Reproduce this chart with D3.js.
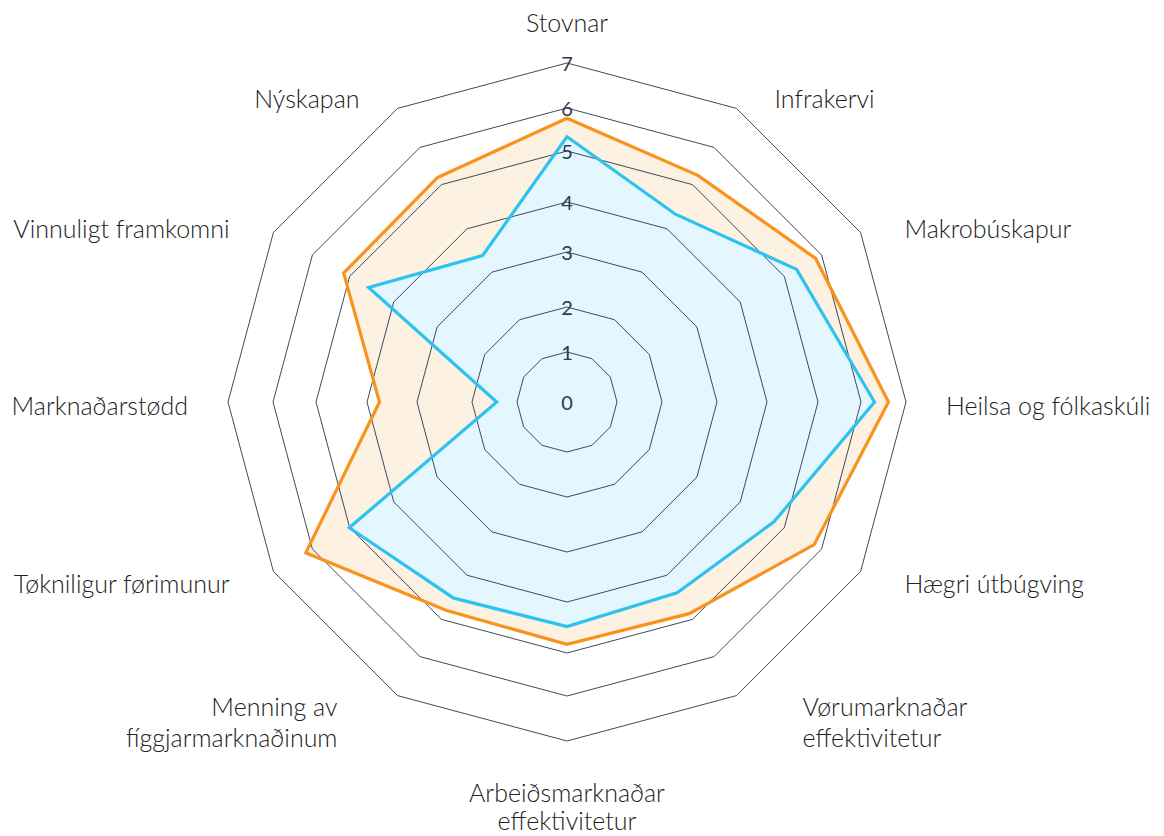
<!DOCTYPE html>
<html lang="fo">

<head>
  <meta charset="utf-8">
  <title>Radar</title>
  <script src="https://cdn.jsdelivr.net/npm/d3@7"></script>
  <style>
    body { margin: 0; background: #fff; }
    .axis-label { font-family: Lato, "Noto Sans", sans-serif; font-weight: 300; font-size: 25px; fill: #222; }
    .tick-label { font-family: Lato, "Noto Sans", sans-serif; font-weight: 400; font-size: 20px; fill: #2d3a4e; }
  </style>
</head>

<body>
  <svg id="chart"></svg>
  <script>
    // categories, clockwise from the top
    var categories = [
      "Stovnar",
      "Infrakervi",
      "Makrobúskapur",
      "Heilsa og fólkaskúli",
      "Hægri útbúgving",
      "Vørumarknaðar\neffektivitetur",
      "Arbeiðsmarknaðar\neffektivitetur",
      "Menning av\nfíggjarmarknaðinum",
      "Tøkniligur førimunur",
      "Marknaðarstødd",
      "Vinnuligt framkomni",
      "Nýskapan"
    ];
    var orangeSeries = [5.76, 5.25, 5.84, 6.61, 5.80, 4.87, 4.83, 4.80, 6.17, 3.75, 5.16, 5.19];
    var blueSeries = [5.33, 4.33, 5.33, 6.30, 4.77, 4.40, 4.48, 4.52, 5.01, 1.45, 4.57, 3.38];
    var ticks = [0, 1, 2, 3, 4, 5, 6, 7];

    var w = 1164, h = 836;
    var cx = 567, cy = 402;
    var step = 2 * Math.PI / categories.length;

    var svg = d3.select("#chart").attr("width", w).attr("height", h);
    var g = svg.append("g").attr("transform", "translate(" + cx + "," + cy + ")");

    // rings in the source are not evenly spaced, so a piecewise scale
    var r = d3.scaleLinear()
      .domain(ticks)
      .range([0, 50, 95, 150, 200, 251, 294, 339]);

    var radial = d3.lineRadial()
      .angle(function(d, i) { return i * step; })
      .radius(function(d) { return r(d); })
      .curve(d3.curveLinearClosed);

    // fills first
    g.append("path").datum(orangeSeries)
      .attr("d", radial)
      .attr("fill", "#fdf1e2");
    g.append("path").datum(blueSeries)
      .attr("d", radial)
      .attr("fill", "#e4f6fe");

    // grid rings (levels 1..7)
    g.selectAll(".ring")
      .data(ticks.slice(1))
      .enter()
      .append("path")
      .attr("class", "ring")
      .attr("d", function(t) { return radial(categories.map(function() { return t; })); })
      .attr("fill", "none")
      .attr("stroke", "#3d4a5c")
      .attr("stroke-width", 1);

    // series outlines
    g.append("path").datum(orangeSeries)
      .attr("d", radial)
      .attr("fill", "none")
      .attr("stroke", "#f7931e")
      .attr("stroke-width", 3.2);
    g.append("path").datum(blueSeries)
      .attr("d", radial)
      .attr("fill", "none")
      .attr("stroke", "#2cc3ef")
      .attr("stroke-width", 3.2);

    // tick labels on the top spoke
    g.selectAll(".tick-label")
      .data(ticks)
      .enter()
      .append("text")
      .attr("class", "tick-label")
      .attr("x", 0)
      .attr("y", function(t) { return -r(t); })
      .attr("text-anchor", "middle")
      .attr("dominant-baseline", "central")
      .text(function(t) { return t; });

    // category labels
    var R = 355;
    categories.forEach(function(name, i) {
      var a = i * step;
      var s = Math.sin(a), c = Math.cos(a);
      var lines = name.split("\n");
      var lineH = 31;
      var x, y0, anchor;
      if (Math.abs(s) < 0.01) {
        anchor = "middle";
        x = 0;
        if (c > 0) y0 = -R - 25 - (lines.length - 1) * lineH;
        else { y0 = R + 35; lineH = 28; }
      } else {
        var gap = 24 + 6 * Math.min(1, 2 * Math.abs(c));
        anchor = s > 0 ? "start" : "end";
        x = R * s + gap * Math.sign(s);
        y0 = -R * c + 3 - (lines.length - 1) * lineH / 2;
        if (lines.length > 1) {
          x += (s > 0 ? 28 : -22);
          y0 += 9;
        }
      }
      var t = g.append("text")
        .attr("class", "axis-label")
        .attr("text-anchor", anchor)
        .attr("dominant-baseline", "central");
      lines.forEach(function(line, k) {
        t.append("tspan")
          .attr("x", x)
          .attr("y", y0 + k * lineH)
          .text(line);
      });
    });
  </script>
</body>

</html>
